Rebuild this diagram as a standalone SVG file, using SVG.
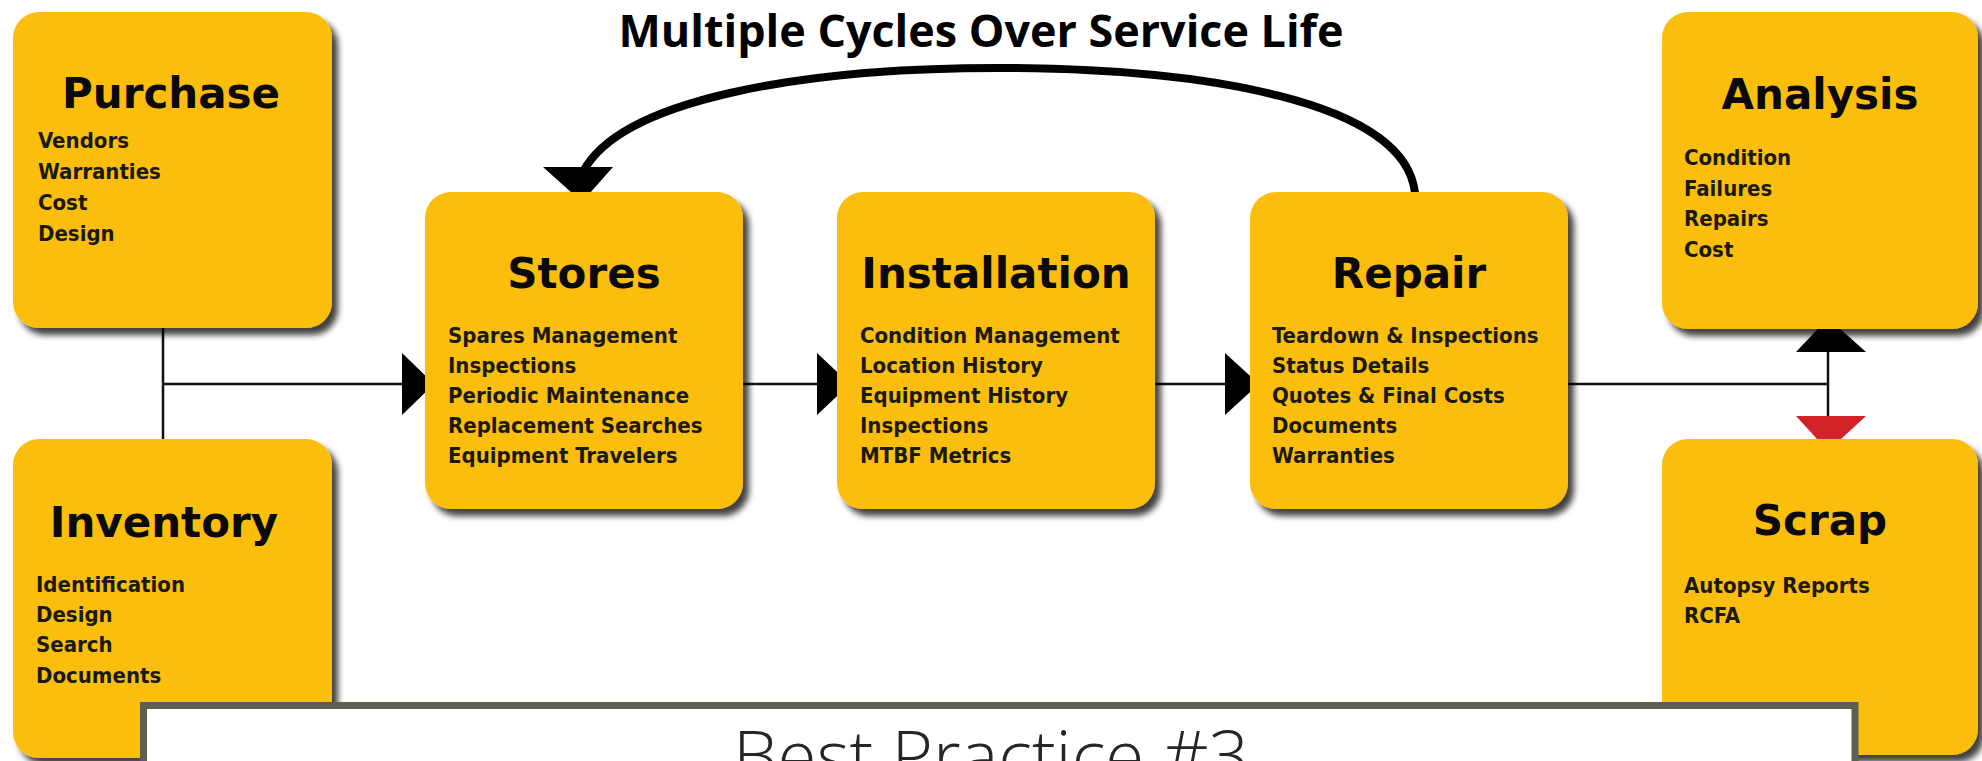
<svg xmlns="http://www.w3.org/2000/svg" width="1982" height="761" viewBox="0 0 1982 761">
  <defs>
    <filter id="sh" x="-10%" y="-10%" width="125%" height="125%">
      <feDropShadow dx="6" dy="7" stdDeviation="3" flood-color="#000" flood-opacity="0.75"/>
    </filter>
    <style>
      .box { fill: #FCBE11; filter: url(#sh); }
      .ttl { font-family: "DejaVu Sans", "Liberation Sans", sans-serif; font-weight: bold; font-size: 42px; fill: #0a0a0a; text-anchor: middle; }
      .itm { font-family: "DejaVu Sans Condensed", "DejaVu Sans", sans-serif; font-stretch: condensed; font-weight: bold; font-size: 22px; fill: #1a1a0a; }
      .ln { stroke: #111; stroke-width: 2.5; fill: none; }
      .head { font-family: "Open Sans", "Liberation Sans", sans-serif; font-weight: bold; font-size: 44px; fill: #000; text-anchor: middle; }
      .bp { font-family: "Open Sans", "Liberation Sans", sans-serif; font-weight: 300; font-size: 70px; fill: #262626; text-anchor: middle; }
    </style>
  </defs>
  <rect width="1982" height="761" fill="#fff"/>

  <text class="head" x="981" y="47" textLength="725" lengthAdjust="spacingAndGlyphs">Multiple Cycles Over Service Life</text>

  <g id="connectors">
    <path class="ln" d="M163 328 V439 M163 384 H405 M743 384 H820 M1155 384 H1228 M1568 384 H1828 M1828 350 V418"/>
    <path d="M1415 193 C1405 100 1200 68 997 68 C800 68 620 100 583 172" fill="none" stroke="#000" stroke-width="8"/>
    <polygon points="543,167 613,167 582,202" fill="#000"/>
    <polygon points="402,353 434,384 402,415" fill="#000"/>
    <polygon points="817,353 850,384 817,415" fill="#000"/>
    <polygon points="1225,353 1259,384 1225,415" fill="#000"/>
    <polygon points="1796,352 1866,352 1828,318" fill="#000"/>
    <polygon points="1796,416 1866,416 1828,451" fill="#D2232A"/>
  </g>

  <g id="purchase">
    <rect class="box" x="13" y="12" width="319" height="316" rx="26"/>
    <text class="ttl" x="171" y="108">Purchase</text>
    <text class="itm" x="38" y="148">Vendors</text>
    <text class="itm" x="38" y="179">Warranties</text>
    <text class="itm" x="38" y="210">Cost</text>
    <text class="itm" x="38" y="241">Design</text>
  </g>

  <g id="inventory">
    <rect class="box" x="13" y="439" width="319" height="319" rx="26"/>
    <text class="ttl" x="164" y="537">Inventory</text>
    <text class="itm" x="36" y="592">Identification</text>
    <text class="itm" x="36" y="622">Design</text>
    <text class="itm" x="36" y="652">Search</text>
    <text class="itm" x="36" y="683">Documents</text>
  </g>

  <g id="stores">
    <rect class="box" x="425" y="192" width="318" height="317" rx="26"/>
    <text class="ttl" x="584" y="288">Stores</text>
    <text class="itm" x="448" y="343">Spares Management</text>
    <text class="itm" x="448" y="373">Inspections</text>
    <text class="itm" x="448" y="403">Periodic Maintenance</text>
    <text class="itm" x="448" y="433">Replacement Searches</text>
    <text class="itm" x="448" y="463">Equipment Travelers</text>
  </g>

  <g id="installation">
    <rect class="box" x="837" y="192" width="318" height="317" rx="26"/>
    <text class="ttl" x="996" y="288">Installation</text>
    <text class="itm" x="860" y="343">Condition Management</text>
    <text class="itm" x="860" y="373">Location History</text>
    <text class="itm" x="860" y="403">Equipment History</text>
    <text class="itm" x="860" y="433">Inspections</text>
    <text class="itm" x="860" y="463">MTBF Metrics</text>
  </g>

  <g id="repair">
    <rect class="box" x="1250" y="192" width="318" height="317" rx="26"/>
    <text class="ttl" x="1409" y="288">Repair</text>
    <text class="itm" x="1272" y="343">Teardown &amp; Inspections</text>
    <text class="itm" x="1272" y="373">Status Details</text>
    <text class="itm" x="1272" y="403">Quotes &amp; Final Costs</text>
    <text class="itm" x="1272" y="433">Documents</text>
    <text class="itm" x="1272" y="463">Warranties</text>
  </g>

  <g id="analysis">
    <rect class="box" x="1662" y="12" width="316" height="317" rx="26"/>
    <text class="ttl" x="1820" y="109">Analysis</text>
    <text class="itm" x="1684" y="165">Condition</text>
    <text class="itm" x="1684" y="196">Failures</text>
    <text class="itm" x="1684" y="226">Repairs</text>
    <text class="itm" x="1684" y="257">Cost</text>
  </g>

  <g id="scrap">
    <rect class="box" x="1662" y="439" width="316" height="316" rx="26"/>
    <text class="ttl" x="1820" y="535">Scrap</text>
    <text class="itm" x="1684" y="593">Autopsy Reports</text>
    <text class="itm" x="1684" y="623">RCFA</text>
  </g>

  <g id="best-practice">
    <rect x="143.5" y="705.5" width="1711.5" height="100" fill="#fff" stroke="#5E5E52" stroke-width="7"/>
    <text class="bp" x="991" y="781" textLength="516" lengthAdjust="spacingAndGlyphs">Best Practice #3</text>
  </g>
</svg>
